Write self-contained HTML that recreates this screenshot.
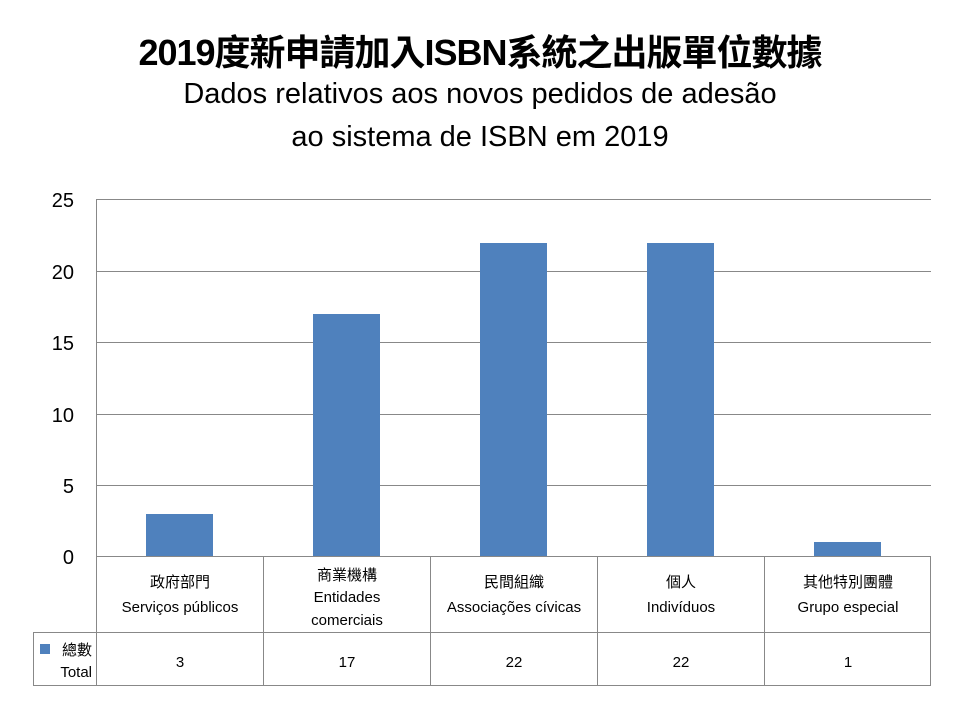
<!DOCTYPE html>
<html><head><meta charset="utf-8"><style>
body{margin:0;width:960px;height:720px;background:#fff;font-family:"Liberation Sans","Noto Sans CJK TC",sans-serif;position:relative;overflow:hidden}
.t{position:absolute;left:0;width:960px;text-align:center;color:#000}
</style></head><body>
<div class="t" style="top:24px;font-size:36px;font-weight:bold;letter-spacing:-1px">2019度新申請加入ISBN系統之出版單位數據</div>
<div class="t" style="top:78px;font-size:29px">Dados relativos aos novos pedidos de adesão</div>
<div class="t" style="top:121px;font-size:29px">ao sistema de ISBN em 2019</div>
<svg width="960" height="720" style="position:absolute;left:0;top:0" font-family="Liberation Sans, Noto Sans CJK TC, sans-serif">
<g stroke="#888" stroke-width="1">
<line x1="96" y1="199.5" x2="931" y2="199.5"/>
<line x1="96" y1="271.5" x2="931" y2="271.5"/>
<line x1="96" y1="342.5" x2="931" y2="342.5"/>
<line x1="96" y1="414.5" x2="931" y2="414.5"/>
<line x1="96" y1="485.5" x2="931" y2="485.5"/>
<line x1="96.5" y1="199" x2="96.5" y2="685"/>
</g>
<g fill="#4f81bd">
<rect x="146" y="514" width="67" height="42"/>
<rect x="313" y="314" width="67" height="242"/>
<rect x="480" y="243" width="67" height="313"/>
<rect x="647" y="243" width="67" height="313"/>
<rect x="814" y="542" width="67" height="14"/>
</g>
<g stroke="#888" stroke-width="1" fill="none">
<line x1="96" y1="556.5" x2="931" y2="556.5"/>
<line x1="33" y1="632.5" x2="931" y2="632.5"/>
<line x1="33" y1="685.5" x2="931" y2="685.5"/>
<line x1="33.5" y1="632" x2="33.5" y2="685"/>
<line x1="263.5" y1="556" x2="263.5" y2="685"/>
<line x1="430.5" y1="556" x2="430.5" y2="685"/>
<line x1="597.5" y1="556" x2="597.5" y2="685"/>
<line x1="764.5" y1="556" x2="764.5" y2="685"/>
<line x1="930.5" y1="556" x2="930.5" y2="685"/>
</g>
<g font-size="20" text-anchor="end" fill="#000">
<text x="74" y="207">25</text><text x="74" y="279">20</text><text x="74" y="350">15</text>
<text x="74" y="422">10</text><text x="74" y="493">5</text><text x="74" y="564">0</text>
</g>
<g font-size="15" text-anchor="middle" fill="#000">
<text x="180" y="587">政府部門</text><text x="180" y="612">Serviços públicos</text>
<text x="347" y="580">商業機構</text><text x="347" y="602">Entidades</text><text x="347" y="625">comerciais</text>
<text x="514" y="587">民間組織</text><text x="514" y="612">Associações cívicas</text>
<text x="681" y="587">個人</text><text x="681" y="612">Indivíduos</text>
<text x="848" y="587">其他特別團體</text><text x="848" y="612">Grupo especial</text>
<text x="180" y="667">3</text><text x="347" y="667">17</text><text x="514" y="667">22</text>
<text x="681" y="667">22</text><text x="848" y="667">1</text>
</g>
<rect x="40" y="644" width="10" height="10" fill="#4f81bd"/>
<text x="92" y="655" font-size="15" text-anchor="end">總數</text>
<text x="92" y="677" font-size="15" text-anchor="end">Total</text>
</svg>
</body></html>
